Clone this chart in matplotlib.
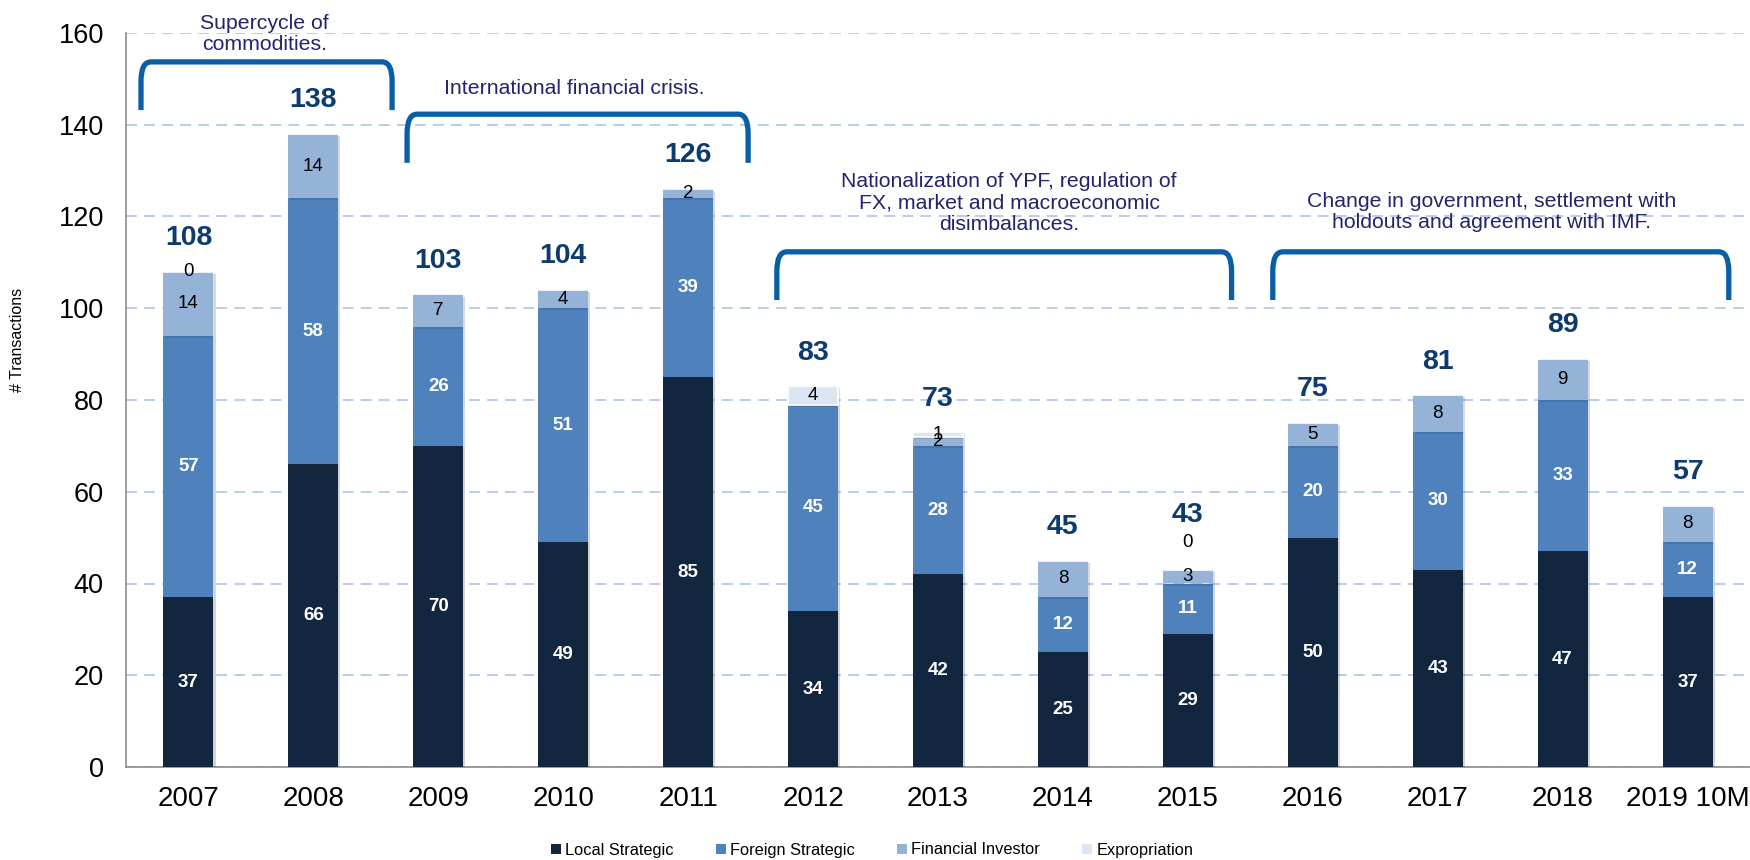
import matplotlib
matplotlib.use("Agg")
import matplotlib.pyplot as plt
import matplotlib.patheffects as pe
from matplotlib.path import Path
from matplotlib.patches import PathPatch, Patch
import numpy as np

plt.rcParams['font.family'] = ['Liberation Sans', 'DejaVu Sans']

YEARS = ['2007', '2008', '2009', '2010', '2011', '2012', '2013',
         '2014', '2015', '2016', '2017', '2018', '2019 10M']
LOCAL = [37, 66, 70, 49, 85, 34, 42, 25, 29, 50, 43, 47, 37]
FOREIGN = [57, 58, 26, 51, 39, 45, 28, 12, 11, 20, 30, 33, 12]
FINANCIAL = [14, 14, 7, 4, 2, None, 2, 8, 3, 5, 8, 9, 8]
EXPROPRIATION = [0, None, None, None, None, 4, 1, None, 0, None, None, None, None]
TOTALS = [108, 138, 103, 104, 126, 83, 73, 45, 43, 75, 81, 89, 57]

SERIES_NAMES = ['Local Strategic', 'Foreign Strategic', 'Financial Investor', 'Expropriation']
COLORS = ['#13263f', '#4f81bd', '#95b3d7', '#dce6f2']
LABEL_STYLE = [('white', 'bold'), ('white', 'bold'), ('black', 'normal'), ('black', 'normal')]

# period annotations: text, text x, text y, bracket x0, x1, y bottom, y top
PERIODS = [
    ('Supercycle of\ncommodities.', 0.61, 159.8, -0.38, 1.63, 143.2, 153.7),
    ('International financial crisis.', 3.09, 147.8, 1.75, 4.48, 131.7, 142.3),
    ('Nationalization of YPF, regulation of\nFX, market and macroeconomic\ndisimbalances.',
     6.57, 122.9, 4.71, 8.35, 101.8, 112.3),
    ('Change in government, settlement with\nholdouts and agreement with IMF.',
     10.43, 120.9, 8.68, 12.33, 101.8, 112.3),
]

# extra lift for the 2015 total and zero label
TOTAL_NUDGE = [0, 0, 0, 0, 0, 0, 0, 0, 4.6, 0, 0, 0, 0]
ZERO_NUDGE = [0, 0, 0, 0, 0, 0, 0, 0, 5.9, 0, 0, 0, 0]


def bracket(ax, x0, x1, y0, y1, color='#0a5ea8'):
  dx = 0.08
  dy = (y1 - y0) * 0.4
  verts = [(x0, y0), (x0, y1 - dy), (x0, y1), (x0 + dx, y1),
           (x1 - dx, y1), (x1, y1), (x1, y1 - dy), (x1, y0)]
  codes = [Path.MOVETO, Path.LINETO, Path.CURVE3, Path.CURVE3,
           Path.LINETO, Path.CURVE3, Path.CURVE3, Path.LINETO]
  ax.add_patch(PathPatch(Path(verts, codes), fill=False, edgecolor=color,
                         lw=3.8, capstyle='butt', joinstyle='round', clip_on=False, zorder=5))


def chart():
  fig = plt.figure(figsize=(17.5, 8.6), dpi=100)
  ax = fig.add_axes([126 / 1750, 1 - 767 / 860, 1624 / 1750, (767 - 33) / 860])

  x = np.arange(len(YEARS))
  series = [LOCAL, FOREIGN, FINANCIAL, EXPROPRIATION]
  bottom = np.zeros(len(YEARS))
  shadow = [pe.SimplePatchShadow(offset=(1.5, -1.5), alpha=0.18), pe.Normal()]
  for name, vals, color, (lc, lw) in zip(SERIES_NAMES, series, COLORS, LABEL_STYLE):
    h = np.array([v if v is not None else 0 for v in vals], dtype=float)
    bars = ax.bar(x, h, 0.4, bottom=bottom, color=color, zorder=3,
                  edgecolor='white' if name == 'Expropriation' else 'none',
                  linewidth=1.2 if name == 'Expropriation' else 0)
    for b in bars:
      b.set_path_effects(shadow)
    for i, v in enumerate(vals):
      if v is None:
        continue
      if v == 0:
        y = bottom[i] + ZERO_NUDGE[i]
      else:
        y = bottom[i] + v / 2
      ax.text(x[i], y, str(v), ha='center', va='center', color=lc,
              fontweight=lw, fontsize=13.5, zorder=6)
    bottom += h

  for i, t in enumerate(TOTALS):
    ax.text(x[i], bottom[i] + 7.3 + TOTAL_NUDGE[i], str(t), ha='center', va='center',
            color='#0d3b6e', fontweight='bold', fontsize=20.5, zorder=6)

  for text, tx, ty, x0, x1, y0, y1 in PERIODS:
    ax.text(tx, ty, text, ha='center', va='center', color='#23236e',
            fontsize=15.3, linespacing=1.15, clip_on=False, zorder=6)
    bracket(ax, x0, x1, y0, y1)

  ax.set_xlim(-0.5, len(YEARS) - 0.5)
  ax.set_ylim(0, 160)
  ax.set_yticks(np.arange(0, 161, 20))
  ax.set_xticks(x)
  ax.set_xticklabels(YEARS)
  ax.tick_params(axis='both', length=0)
  ax.tick_params(axis='y', pad=16, labelsize=19.5)
  ax.tick_params(axis='x', pad=14, labelsize=20)
  ax.yaxis.grid(True, color='#b4c8ea', linestyle=(0, (6, 4)), lw=1.3, zorder=0)
  ax.set_axisbelow(True)
  for s in ['top', 'right']:
    ax.spines[s].set_visible(False)
  for s in ['left', 'bottom']:
    ax.spines[s].set_color('#8c8c8c')
    ax.spines[s].set_linewidth(1.2)

  fig.text(18 / 1750, 1 - 340 / 860, '# Transactions', rotation=90,
           ha='center', va='center', fontsize=11.5)

  handles = [Patch(facecolor=c, edgecolor='none', label=n) for n, c in zip(SERIES_NAMES, COLORS)]
  fig.legend(handles=handles, loc='center', bbox_to_anchor=(872 / 1750, 1 - 850 / 860),
             ncols=4, frameon=False, fontsize=11.8, handlelength=0.6, handleheight=0.6,
             handletextpad=0.25, columnspacing=2.6)

  fig.savefig('out.png', dpi=100)


if __name__ == "__main__":
  chart()
